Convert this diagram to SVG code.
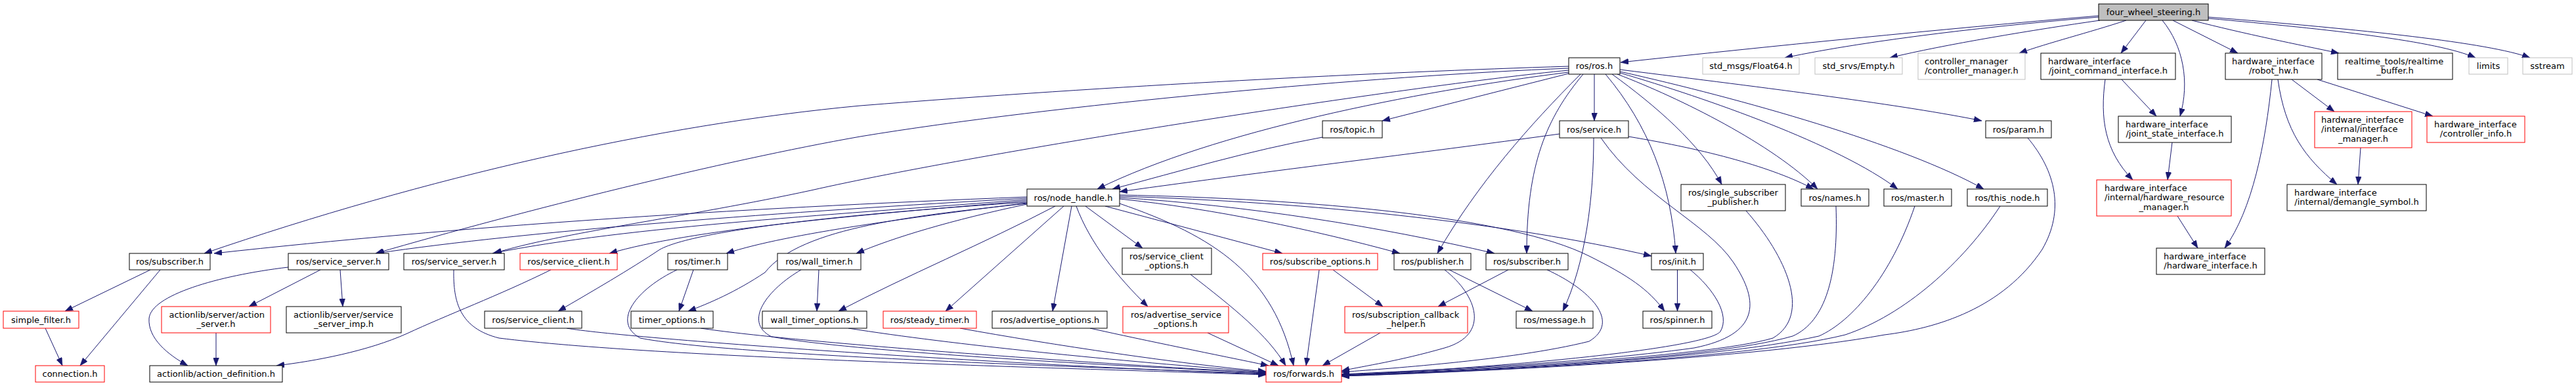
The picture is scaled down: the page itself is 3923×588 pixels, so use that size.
<svg xmlns="http://www.w3.org/2000/svg" width="3923" height="588" viewBox="0 0 3923 588">
<style>
.node rect{fill:#ffffff;stroke:#000000;stroke-width:1}
.node.grey rect{stroke:#bfbfbf}
.node.red rect{stroke:#ff0000}
.node.root rect{fill:#bfbfbf;stroke:#000000}
.node text{font-family:"DejaVu Sans","Liberation Sans",sans-serif;font-size:13px;fill:#000000}
.c{text-anchor:middle}
.l{text-anchor:start}
#edges path{fill:none;stroke:#191970;stroke-width:1;marker-end:url(#arr)}
</style>
<defs>
<marker id="arr" markerUnits="userSpaceOnUse" markerWidth="12" markerHeight="9" refX="12" refY="4.5" orient="auto" viewBox="0 0 12 9">
<path d="M0,0 L12,4.5 L0,9 z" fill="#191970" stroke="#191970" stroke-width="0.5"/>
</marker>
</defs>
<rect x="0" y="0" width="3923" height="588" fill="#ffffff"/>
<g id="edges">
<path d="M3196,24 C2950,45 2700,70 2468,95"/>
<path d="M3196,26 C3050,38 2850,60 2718,88"/>
<path d="M3198,31 C3100,45 2960,68 2878,88"/>
<path d="M3238,31 C3180,50 3120,65 3075,81"/>
<path d="M3268,31 L3230,81"/>
<path d="M3293,31 C3325,70 3335,125 3320,177"/>
<path d="M3309,31 L3408,81"/>
<path d="M3338,31 C3420,52 3500,68 3562,81"/>
<path d="M3363,28 C3550,45 3710,62 3770,88"/>
<path d="M3363,26 C3600,45 3790,65 3853,88"/>
<path d="M2389,110 C2150,140 1850,200 1671,288"/>
<path d="M2389,112 L2105,184"/>
<path d="M2428,113 L2428,184"/>
<path d="M2389,101 C2100,110 1700,130 1310,161 C1000,190 650,270 311,386"/>
<path d="M2389,104 C2100,115 1600,160 1310,208 C1100,245 800,320 572,386"/>
<path d="M2389,107 C2150,130 1500,230 1235,290 C1050,330 850,355 752,386"/>
<path d="M2407,113 C2330,190 2250,280 2189,386"/>
<path d="M2411,113 C2355,180 2325,250 2325,386"/>
<path d="M2445,113 C2510,190 2545,280 2552,386"/>
<path d="M2455,113 C2520,160 2590,220 2622,281"/>
<path d="M2463,113 C2560,150 2700,220 2768,288"/>
<path d="M2467,111 C2600,150 2800,220 2890,288"/>
<path d="M2467,109 C2650,150 2900,220 3021,288"/>
<path d="M2467,106 C2700,135 2900,160 3018,184"/>
<path d="M2375,204 C2150,235 1950,258 1705,292"/>
<path d="M2014,209 C1900,230 1800,260 1694,288"/>
<path d="M2480,208 C2600,228 2700,255 2762,288"/>
<path d="M2427,210 C2427,300 2415,400 2380,474"/>
<path d="M2438,210 C2500,300 2600,340 2640,400 C2680,460 2680,510 2580,530 C2400,555 2150,565 2043,570"/>
<path d="M2573,410 C2610,440 2635,480 2620,505 C2600,530 2300,560 2043,571"/>
<path d="M2554.5,411 L2554.5,474"/>
<path d="M2659,321 C2720,390 2760,480 2700,515 C2600,545 2200,565 2043,571"/>
<path d="M2796,314 C2800,420 2780,490 2730,512 C2600,550 2200,565 2043,572"/>
<path d="M2916,314 C2880,420 2820,490 2770,512 C2600,550 2200,567 2043,572"/>
<path d="M3046,314 C2990,400 2900,480 2810,510 C2650,550 2200,567 2043,573"/>
<path d="M3088,210 C3130,260 3145,320 3110,380 C3050,470 2950,500 2870,510 C2650,550 2200,568 2043,573"/>
<path d="M2200,411 C2250,450 2270,510 2200,530 C2130,550 2080,557 2043,565"/>
<path d="M2207,411 L2334,474"/>
<path d="M2297,411 L2190,467"/>
<path d="M2356,411 C2420,440 2470,490 2420,520 C2300,550 2100,562 2043,567"/>
<path d="M2030,411 L2106,467"/>
<path d="M2009,411 L1989,557"/>
<path d="M2102,507 L2014,557"/>
<path d="M1564,300 C1100,318 700,345 326,386"/>
<path d="M1564,302 C1200,322 800,352 573,386"/>
<path d="M1564,304 C1300,325 950,345 750,386"/>
<path d="M1564,306 C1300,328 1050,350 928,386"/>
<path d="M1564,308 C1300,325 1060,350 1005,380 C960,410 900,445 850,474"/>
<path d="M1564,309 C1400,330 1200,355 1106,386"/>
<path d="M1564,310 C1400,328 1220,345 1165,415 C1120,445 1080,462 1048,474"/>
<path d="M1564,311 C1450,335 1360,362 1304,386"/>
<path d="M1607,314 C1500,370 1380,420 1277,474"/>
<path d="M1620,314 L1440,474"/>
<path d="M1632,314 L1603,474"/>
<path d="M1639,314 C1660,370 1700,420 1748,467"/>
<path d="M1653,314 L1740,378"/>
<path d="M1683,314 L1953,386"/>
<path d="M1705,310 C1850,360 1940,420 1970,557"/>
<path d="M1705,303 C1850,318 2000,350 2132,386"/>
<path d="M1705,301 C1900,313 2100,345 2276,386"/>
<path d="M1705,299 C2000,308 2300,340 2515,390"/>
<path d="M1705,297 C2000,303 2300,330 2420,390 C2480,420 2510,440 2535,474"/>
<path d="M229,411 L99,474"/>
<path d="M244,411 L122,557"/>
<path d="M69,500 L95,557"/>
<path d="M439,407 C330,420 230,450 227,485 C225,515 255,540 286,557"/>
<path d="M488,411 L379,467"/>
<path d="M518,411 L522,467"/>
<path d="M329,507 L329,557"/>
<path d="M839,411 C760,450 680,480 620,508 C560,535 480,550 421,557"/>
<path d="M691,411 C690,460 700,500 760,515 C1000,545 1600,560 1928,571"/>
<path d="M863,500 C950,515 1500,555 1928,570"/>
<path d="M1031,411 C970,440 930,490 975,515 C1100,540 1600,558 1928,569"/>
<path d="M1056,411 L1034,474"/>
<path d="M1067,500 C1200,520 1600,550 1928,568"/>
<path d="M1220,411 C1170,440 1130,490 1175,513 C1300,535 1650,555 1928,568"/>
<path d="M1247,411 L1244,474"/>
<path d="M1292,500 C1450,525 1700,550 1928,567"/>
<path d="M1462,500 C1600,525 1800,555 1928,566"/>
<path d="M1660,500 C1750,520 1850,540 1932,557"/>
<path d="M1839,507 L1947,557"/>
<path d="M1813,418 C1880,470 1930,510 1958,557"/>
<path d="M3231,121 L3284,177"/>
<path d="M3206,121 C3198,180 3205,230 3248,274"/>
<path d="M3308,217 L3301,274"/>
<path d="M3316,329 L3347,378"/>
<path d="M3460,121 C3450,220 3430,320 3388,378"/>
<path d="M3469,121 C3480,200 3510,240 3559,281"/>
<path d="M3490,121 L3555,170"/>
<path d="M3529,121 L3705,177"/>
<path d="M3595,225 L3591,281"/>
</g>
<g id="n1" class="node root"><rect x="3196" y="6" width="167" height="25"/><text class="c" x="3279.5" y="23">four_wheel_steering.h</text></g>
<g id="n2" class="node"><rect x="2389" y="88" width="78" height="25"/><text class="c" x="2428" y="105">ros/ros.h</text></g>
<g id="n3" class="node grey"><rect x="2593" y="88" width="147" height="25"/><text class="c" x="2666.5" y="105">std_msgs/Float64.h</text></g>
<g id="n4" class="node grey"><rect x="2764" y="88" width="133" height="25"/><text class="c" x="2830.5" y="105">std_srvs/Empty.h</text></g>
<g id="n5" class="node grey"><rect x="2921" y="81" width="163" height="40"/><text class="l" x="2931" y="97.5">controller_manager</text><text class="c" x="3002.5" y="111.5">/controller_manager.h</text></g>
<g id="n6" class="node"><rect x="3108" y="81" width="205" height="40"/><text class="l" x="3119" y="97.5">hardware_interface</text><text class="c" x="3210.5" y="111.5">/joint_command_interface.h</text></g>
<g id="n7" class="node"><rect x="3389" y="81" width="147" height="40"/><text class="l" x="3399" y="97.5">hardware_interface</text><text class="c" x="3462.5" y="111.5">/robot_hw.h</text></g>
<g id="n8" class="node"><rect x="3560" y="81" width="175" height="40"/><text class="l" x="3571" y="97.5">realtime_tools/realtime</text><text class="c" x="3647.5" y="111.5">_buffer.h</text></g>
<g id="n9" class="node grey"><rect x="3760" y="88" width="59" height="25"/><text class="c" x="3789.5" y="105">limits</text></g>
<g id="n10" class="node grey"><rect x="3842" y="88" width="75" height="25"/><text class="c" x="3879.5" y="105">sstream</text></g>
<g id="n11" class="node"><rect x="2014" y="184" width="91" height="26"/><text class="c" x="2059.5" y="201.5">ros/topic.h</text></g>
<g id="n12" class="node"><rect x="2375" y="184" width="105" height="26"/><text class="c" x="2427.5" y="201.5">ros/service.h</text></g>
<g id="n13" class="node"><rect x="3024" y="184" width="100" height="26"/><text class="c" x="3074" y="201.5">ros/param.h</text></g>
<g id="n14" class="node"><rect x="3226" y="177" width="172" height="40"/><text class="l" x="3237" y="193.5">hardware_interface</text><text class="c" x="3312" y="207.5">/joint_state_interface.h</text></g>
<g id="n15" class="node red"><rect x="3525" y="170" width="148" height="55"/><text class="l" x="3535" y="186.5">hardware_interface</text><text class="l" x="3535" y="201">/internal/interface</text><text class="c" x="3599" y="215.5">_manager.h</text></g>
<g id="n16" class="node red"><rect x="3696" y="177" width="149" height="40"/><text class="l" x="3707" y="193.5">hardware_interface</text><text class="c" x="3770.5" y="207.5">/controller_info.h</text></g>
<g id="n17" class="node"><rect x="1564" y="288" width="141" height="26"/><text class="c" x="1634.5" y="305.5">ros/node_handle.h</text></g>
<g id="n18" class="node"><rect x="2560" y="281" width="159" height="40"/><text class="l" x="2571" y="297.5">ros/single_subscriber</text><text class="c" x="2639.5" y="311.5">_publisher.h</text></g>
<g id="n19" class="node"><rect x="2743" y="288" width="103" height="26"/><text class="c" x="2794.5" y="305.5">ros/names.h</text></g>
<g id="n20" class="node"><rect x="2869" y="288" width="103" height="26"/><text class="c" x="2920.5" y="305.5">ros/master.h</text></g>
<g id="n21" class="node"><rect x="2996" y="288" width="122" height="26"/><text class="c" x="3057" y="305.5">ros/this_node.h</text></g>
<g id="n22" class="node red"><rect x="3193" y="274" width="205" height="55"/><text class="l" x="3205" y="290.5">hardware_interface</text><text class="l" x="3205" y="305">/internal/hardware_resource</text><text class="c" x="3295.5" y="319.5">_manager.h</text></g>
<g id="n23" class="node"><rect x="3483" y="281" width="212" height="40"/><text class="l" x="3494" y="297.5">hardware_interface</text><text class="c" x="3589" y="311.5">/internal/demangle_symbol.h</text></g>
<g id="n24" class="node"><rect x="197" y="386" width="123" height="25"/><text class="c" x="258.5" y="403">ros/subscriber.h</text></g>
<g id="n25" class="node"><rect x="439" y="386" width="153" height="25"/><text class="c" x="515.5" y="403">ros/service_server.h</text></g>
<g id="n26" class="node"><rect x="615" y="386" width="153" height="25"/><text class="c" x="691.5" y="403">ros/service_server.h</text></g>
<g id="n27" class="node red"><rect x="792" y="386" width="148" height="25"/><text class="c" x="866" y="403">ros/service_client.h</text></g>
<g id="n28" class="node"><rect x="1017" y="386" width="91" height="25"/><text class="c" x="1062.5" y="403">ros/timer.h</text></g>
<g id="n29" class="node"><rect x="1184" y="386" width="127" height="25"/><text class="c" x="1247.5" y="403">ros/wall_timer.h</text></g>
<g id="n30" class="node"><rect x="1709" y="378" width="136" height="40"/><text class="l" x="1720" y="394.5">ros/service_client</text><text class="c" x="1777" y="408.5">_options.h</text></g>
<g id="n31" class="node red"><rect x="1923" y="386" width="175" height="25"/><text class="c" x="2010.5" y="403">ros/subscribe_options.h</text></g>
<g id="n32" class="node"><rect x="2123" y="386" width="117" height="25"/><text class="c" x="2181.5" y="403">ros/publisher.h</text></g>
<g id="n33" class="node"><rect x="2263" y="386" width="125" height="25"/><text class="c" x="2325.5" y="403">ros/subscriber.h</text></g>
<g id="n34" class="node"><rect x="2515" y="386" width="79" height="25"/><text class="c" x="2554.5" y="403">ros/init.h</text></g>
<g id="n35" class="node"><rect x="3284" y="378" width="165" height="40"/><text class="l" x="3295" y="394.5">hardware_interface</text><text class="c" x="3366.5" y="408.5">/hardware_interface.h</text></g>
<g id="n36" class="node red"><rect x="5" y="474" width="115" height="26"/><text class="c" x="62.5" y="491.5">simple_filter.h</text></g>
<g id="n37" class="node red"><rect x="246" y="467" width="166" height="40"/><text class="l" x="257.5" y="483.5">actionlib/server/action</text><text class="c" x="329" y="497.5">_server.h</text></g>
<g id="n38" class="node"><rect x="436" y="467" width="175" height="40"/><text class="l" x="447" y="483.5">actionlib/server/service</text><text class="c" x="523.5" y="497.5">_server_imp.h</text></g>
<g id="n39" class="node"><rect x="738" y="474" width="148" height="26"/><text class="c" x="812" y="491.5">ros/service_client.h</text></g>
<g id="n40" class="node"><rect x="961" y="474" width="125" height="26"/><text class="c" x="1023.5" y="491.5">timer_options.h</text></g>
<g id="n41" class="node"><rect x="1161" y="474" width="159" height="26"/><text class="c" x="1240.5" y="491.5">wall_timer_options.h</text></g>
<g id="n42" class="node red"><rect x="1345" y="474" width="142" height="26"/><text class="c" x="1416" y="491.5">ros/steady_timer.h</text></g>
<g id="n43" class="node"><rect x="1511" y="474" width="175" height="26"/><text class="c" x="1598.5" y="491.5">ros/advertise_options.h</text></g>
<g id="n44" class="node red"><rect x="1710" y="467" width="161" height="40"/><text class="l" x="1722" y="483.5">ros/advertise_service</text><text class="c" x="1790.5" y="497.5">_options.h</text></g>
<g id="n45" class="node red"><rect x="2048" y="467" width="187" height="40"/><text class="l" x="2059" y="483.5">ros/subscription_callback</text><text class="c" x="2141.5" y="497.5">_helper.h</text></g>
<g id="n46" class="node"><rect x="2309" y="474" width="117" height="26"/><text class="c" x="2367.5" y="491.5">ros/message.h</text></g>
<g id="n47" class="node"><rect x="2502" y="474" width="105" height="26"/><text class="c" x="2554.5" y="491.5">ros/spinner.h</text></g>
<g id="n48" class="node red"><rect x="54" y="557" width="105" height="25"/><text class="c" x="106.5" y="574">connection.h</text></g>
<g id="n49" class="node"><rect x="228" y="557" width="202" height="25"/><text class="c" x="329" y="574">actionlib/action_definition.h</text></g>
<g id="n50" class="node red"><rect x="1928" y="557" width="115" height="25"/><text class="c" x="1985.5" y="574">ros/forwards.h</text></g>
</svg>
